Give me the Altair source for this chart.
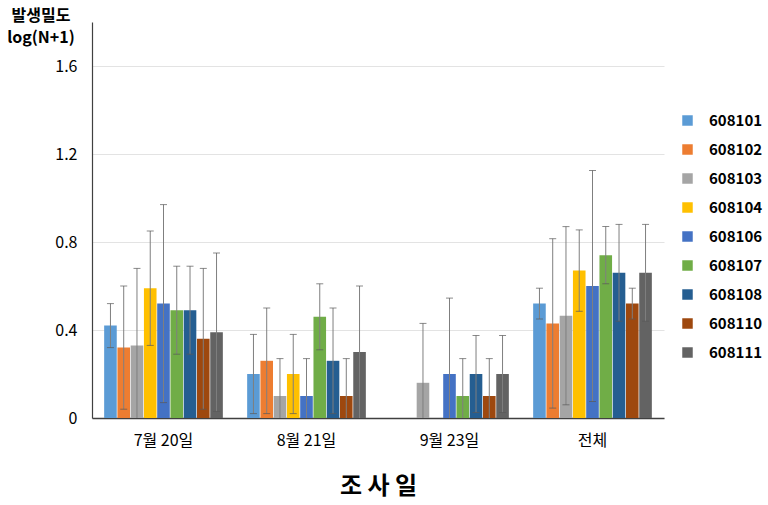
import altair as alt
import pandas as pd

dates = ["7월 20일", "8월 21일", "9월 23일", "전체"]
series = ["608101", "608102", "608103", "608104", "608106", "608107", "608108", "608110", "608111"]
colors = ["#5B9BD5", "#ED7D31", "#A5A5A5", "#FFC000", "#4472C4", "#70AD47", "#255E91", "#9E480E", "#636363"]

# mean log(N+1) per series, one list per survey date
mean_jul20 = [0.42, 0.32, 0.33, 0.59, 0.52, 0.49, 0.49, 0.36, 0.39]
mean_aug21 = [0.20, 0.26, 0.10, 0.20, 0.10, 0.46, 0.26, 0.10, 0.30]
mean_sep23 = [0.00, 0.00, 0.16, 0.00, 0.20, 0.10, 0.20, 0.10, 0.20]
mean_total = [0.52, 0.43, 0.465, 0.67, 0.60, 0.74, 0.66, 0.52, 0.66]

# error (± value)
err_jul20 = [0.10, 0.28, 0.35, 0.26, 0.45, 0.20, 0.20, 0.32, 0.36]
err_aug21 = [0.18, 0.24, 0.17, 0.18, 0.17, 0.15, 0.24, 0.17, 0.30]
err_sep23 = [0.00, 0.00, 0.27, 0.00, 0.345, 0.17, 0.175, 0.17, 0.175]
err_total = [0.07, 0.385, 0.405, 0.185, 0.525, 0.13, 0.22, 0.07, 0.22]

means = [mean_jul20, mean_aug21, mean_sep23, mean_total]
errs = [err_jul20, err_aug21, err_sep23, err_total]

rows = []
for d, ms, es in zip(dates, means, errs):
    for s, m, e in zip(series, ms, es):
        rows.append({"date": d, "series": s, "mean": m, "err": e})
df = pd.DataFrame(rows)

FONT = "Noto Sans CJK KR"

x_enc = alt.X("date:N", sort=dates,
              scale=alt.Scale(paddingInner=0.17, paddingOuter=0.085),
              axis=alt.Axis(title="조 사 일", labelAngle=0, labelFontSize=16, labelColor="#000000",
                            labelPadding=14, ticks=False, domainColor="#404040", domainWidth=1.5,
                            titleFontSize=24, titleFontWeight="bold", titlePadding=26,
                            titleColor="#000000", grid=False))
xo_enc = alt.XOffset("series:N", sort=series, scale=alt.Scale(paddingInner=0.05))

base = alt.Chart(df)

bars = base.mark_bar().encode(
    x=x_enc,
    xOffset=xo_enc,
    y=alt.Y("mean:Q", scale=alt.Scale(domain=[0, 1.8], nice=False),
            axis=alt.Axis(values=[0, 0.4, 0.8, 1.2, 1.6], format="~g", title=None,
                          labelFontSize=16, labelColor="#000000", labelPadding=15, ticks=False,
                          domainColor="#404040", domainWidth=1.2,
                          gridColor="#e3e3e3", gridWidth=1)),
    color=alt.Color("series:N", sort=series, scale=alt.Scale(domain=series, range=colors),
                    legend=alt.Legend(title=None, orient="none", legendX=588, legendY=91,
                                      symbolType="square", symbolSize=110, symbolStrokeWidth=0,
                                      labelFontSize=15, labelFontWeight="bold", labelColor="#000000",
                                      labelFont=FONT, rowPadding=13, labelOffset=14)),
)

err_df = base.transform_filter("datum.err > 0").transform_calculate(
    hi="datum.mean + datum.err", lo="max(0, datum.mean - datum.err)")

rules = err_df.mark_rule(color="#7f7f7f", strokeWidth=1).encode(
    x=alt.X("date:N", sort=dates), xOffset=xo_enc,
    y="lo:Q", y2="hi:Q")

caps_hi = err_df.mark_tick(color="#595959", thickness=1, size=7, orient="horizontal").encode(
    x=alt.X("date:N", sort=dates), xOffset=xo_enc, y="hi:Q")

caps_lo = err_df.transform_filter("datum.lo > 0.005").mark_tick(
    color="#595959", thickness=1, size=7, orient="horizontal").encode(
    x=alt.X("date:N", sort=dates), xOffset=xo_enc, y="lo:Q")

chart = alt.layer(bars, rules, caps_hi, caps_lo).properties(
    width=572, height=396,
    title=alt.TitleParams(text="발생밀도", subtitle="log(N+1)", anchor="start", align="center",
                          frame="group", orient="top", dx=-51, dy=0, offset=-24,
                          fontSize=16, fontWeight="bold", color="#000000", font=FONT,
                          subtitleFontSize=16, subtitleFontWeight="bold", subtitleColor="#000000",
                          subtitleFont=FONT, subtitlePadding=6),
    autosize=alt.AutoSizeParams(type="none"),
    padding={"left": 92, "top": 22, "right": 104, "bottom": 87},
).configure(font=FONT).configure_view(stroke=None)

chart.save("out.html", embed_options={"renderer": "svg", "actions": False})
